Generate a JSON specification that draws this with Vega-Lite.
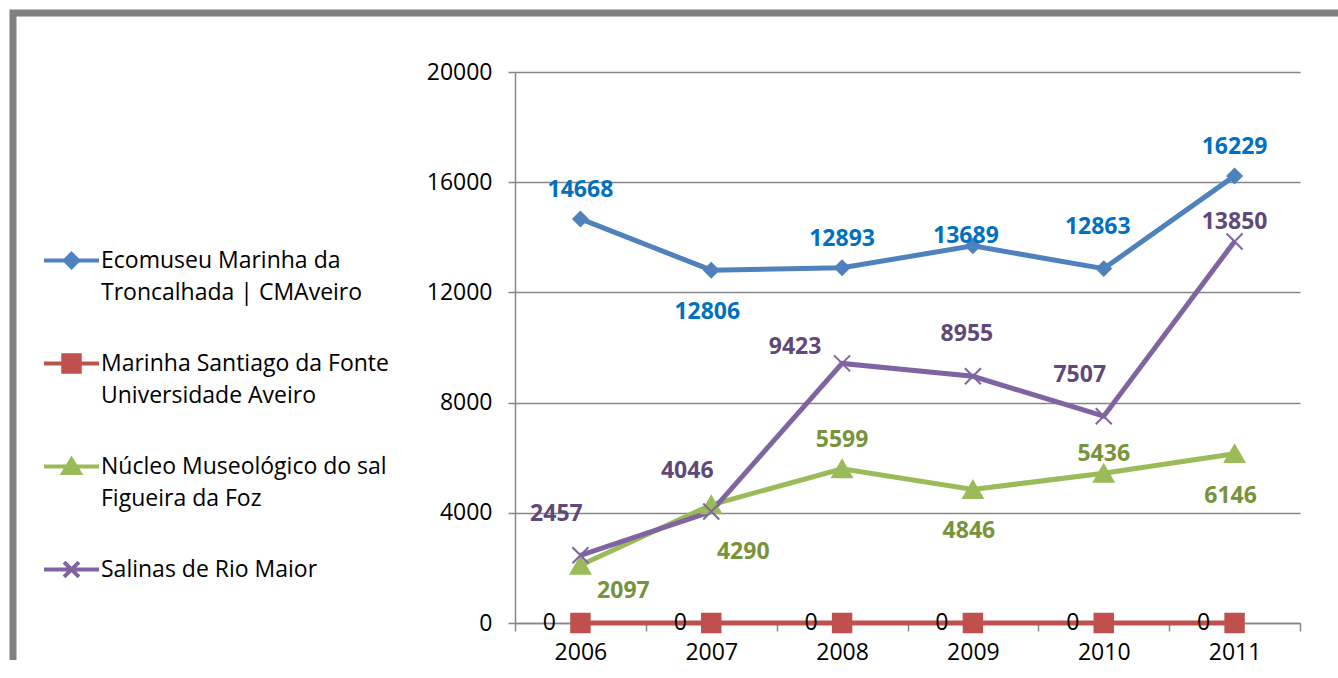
{
  "$schema": "https://vega.github.io/schema/vega-lite/v6.json",
  "width": 1385,
  "height": 657,
  "autosize": {"type": "none"},
  "padding": {"left": 13, "top": 13, "right": -60, "bottom": -10},
  "background": "white",
  "config": {
    "font": "Open Sans",
    "view": {"stroke": "#808080", "strokeWidth": 7}
  },
  "data": {
    "values": [
      {"year": "2006", "series": "Ecomuseu Marinha da Troncalhada | CMAveiro", "value": 14668, "pos": "above"},
      {"year": "2007", "series": "Ecomuseu Marinha da Troncalhada | CMAveiro", "value": 12806, "pos": "below"},
      {"year": "2008", "series": "Ecomuseu Marinha da Troncalhada | CMAveiro", "value": 12893, "pos": "above"},
      {"year": "2009", "series": "Ecomuseu Marinha da Troncalhada | CMAveiro", "value": 13689, "pos": "near"},
      {"year": "2010", "series": "Ecomuseu Marinha da Troncalhada | CMAveiro", "value": 12863, "pos": "high"},
      {"year": "2011", "series": "Ecomuseu Marinha da Troncalhada | CMAveiro", "value": 16229, "pos": "above"},
      {"year": "2006", "series": "Marinha Santiago da Fonte Universidade Aveiro", "value": 0, "pos": "zero"},
      {"year": "2007", "series": "Marinha Santiago da Fonte Universidade Aveiro", "value": 0, "pos": "zero"},
      {"year": "2008", "series": "Marinha Santiago da Fonte Universidade Aveiro", "value": 0, "pos": "zero"},
      {"year": "2009", "series": "Marinha Santiago da Fonte Universidade Aveiro", "value": 0, "pos": "zero"},
      {"year": "2010", "series": "Marinha Santiago da Fonte Universidade Aveiro", "value": 0, "pos": "zero"},
      {"year": "2011", "series": "Marinha Santiago da Fonte Universidade Aveiro", "value": 0, "pos": "zero"},
      {"year": "2006", "series": "Núcleo Museológico do sal Figueira da Foz", "value": 2097, "pos": "rightbelow"},
      {"year": "2007", "series": "Núcleo Museológico do sal Figueira da Foz", "value": 4290, "pos": "belowright"},
      {"year": "2008", "series": "Núcleo Museológico do sal Figueira da Foz", "value": 5599, "pos": "above"},
      {"year": "2009", "series": "Núcleo Museológico do sal Figueira da Foz", "value": 4846, "pos": "below"},
      {"year": "2010", "series": "Núcleo Museológico do sal Figueira da Foz", "value": 5436, "pos": "aboveclose"},
      {"year": "2011", "series": "Núcleo Museológico do sal Figueira da Foz", "value": 6146, "pos": "below"},
      {"year": "2006", "series": "Salinas de Rio Maior", "value": 2457, "pos": "aboveleft"},
      {"year": "2007", "series": "Salinas de Rio Maior", "value": 4046, "pos": "aboveleft"},
      {"year": "2008", "series": "Salinas de Rio Maior", "value": 9423, "pos": "left"},
      {"year": "2009", "series": "Salinas de Rio Maior", "value": 8955, "pos": "high"},
      {"year": "2010", "series": "Salinas de Rio Maior", "value": 7507, "pos": "aboveleft"},
      {"year": "2011", "series": "Salinas de Rio Maior", "value": 13850, "pos": "aboveclose"}
    ]
  },
  "encoding": {
    "x": {
      "field": "year", "type": "ordinal",
      "scale": {"type": "band", "range": [502, 1287], "paddingInner": 0, "paddingOuter": 0},
      "axis": {
        "title": null, "offset": -47, "tickBand": "extent", "tickSize": 8,
        "tickColor": "#868686", "tickWidth": 1.5, "domainColor": "#868686", "domainWidth": 1.5,
        "labelFontSize": 23, "labelColor": "black", "labelPadding": 10, "labelAngle": 0, "grid": false
      }
    },
    "y": {
      "field": "value", "type": "quantitative",
      "scale": {"domain": [0, 20000], "range": [610, 59], "nice": false, "zero": true},
      "axis": {
        "title": null, "offset": -502, "values": [0, 4000, 8000, 12000, 16000, 20000],
        "grid": true, "gridColor": "#868686", "gridWidth": 1.5,
        "tickColor": "#868686", "tickWidth": 1.5, "tickSize": 7,
        "domainColor": "#868686", "domainWidth": 1.5,
        "labelFontSize": 23, "labelColor": "black", "labelPadding": 16, "format": "d"
      }
    }
  },
  "layer": [
    {
      "mark": {"type": "line", "strokeWidth": 5},
      "encoding": {
        "color": {
          "field": "series", "type": "nominal",
          "scale": {
            "domain": ["Ecomuseu Marinha da Troncalhada | CMAveiro", "Marinha Santiago da Fonte Universidade Aveiro", "Núcleo Museológico do sal Figueira da Foz", "Salinas de Rio Maior"],
            "range": ["#4F81BD", "#C0504D", "#9BBB59", "#8064A2"]
          },
          "legend": {
            "orient": "none", "legendX": 29, "legendY": 218, "title": null, "padding": 0,
            "direction": "vertical", "columns": 1,
            "symbolSize": 3025, "symbolStrokeWidth": 4, "labelFontSize": 23, "labelColor": "black",
            "labelLimit": 500, "labelOffset": 0, "rowPadding": 29, "labelBaseline": "top",
            "labelExpr": "datum.value === 'Ecomuseu Marinha da Troncalhada | CMAveiro' ? ['Ecomuseu Marinha da', 'Troncalhada | CMAveiro'] : datum.value === 'Marinha Santiago da Fonte Universidade Aveiro' ? ['Marinha Santiago da Fonte', 'Universidade Aveiro'] : datum.value === 'Núcleo Museológico do sal Figueira da Foz' ? ['Núcleo Museológico do sal', 'Figueira da Foz'] : 'Salinas de Rio Maior'",
            "encode": {
              "symbols": {
                "update": {
                  "shape": {"signal": "datum.value === 'Ecomuseu Marinha da Troncalhada | CMAveiro' ? 'M-1,0H1M0,-0.24L0.24,0L0,0.24L-0.24,0Z' : datum.value === 'Marinha Santiago da Fonte Universidade Aveiro' ? 'M-1,0H1M-0.3,-0.3H0.3V0.3H-0.3Z' : datum.value === 'Núcleo Museológico do sal Figueira da Foz' ? 'M-1,0H1M0,-0.26L0.3,0.24H-0.3Z' : 'M-1,0H1M-0.27,-0.27L0.27,0.27M-0.27,0.27L0.27,-0.27'"},
                  "fill": {"signal": "scale('color', datum.value)"},
                  "stroke": {"signal": "scale('color', datum.value)"},
                  "strokeWidth": {"value": 4},
                  "size": {"value": 3025},
                  "opacity": {"value": 1}
                }
              },
              "labels": {
                "update": {
                  "lineHeight": {"value": 32},
                  "dy": {"value": -11}
                }
              }
            }
          }
        }
      }
    },
    {
      "transform": [{"filter": "datum.series === 'Ecomuseu Marinha da Troncalhada | CMAveiro'"}],
      "mark": {"type": "point", "shape": "diamond", "size": 200, "filled": true, "opacity": 1, "fill": "#4F81BD", "stroke": "#4F81BD", "strokeWidth": 2}
    },
    {
      "transform": [{"filter": "datum.series === 'Marinha Santiago da Fonte Universidade Aveiro'"}],
      "mark": {"type": "point", "shape": "square", "size": 340, "filled": true, "opacity": 1, "fill": "#C0504D", "stroke": "#C0504D", "strokeWidth": 2}
    },
    {
      "transform": [{"filter": "datum.series === 'Núcleo Museológico do sal Figueira da Foz'"}],
      "mark": {"type": "point", "shape": "triangle-up", "size": 380, "filled": true, "opacity": 1, "fill": "#9BBB59", "stroke": "#9BBB59", "strokeWidth": 2}
    },
    {
      "transform": [{"filter": "datum.series === 'Salinas de Rio Maior'"}],
      "mark": {"type": "point", "shape": "M-1,-1L1,1M-1,1L1,-1", "size": 256, "filled": false, "opacity": 1, "stroke": "#8064A2", "strokeWidth": 2}
    },
    {
      "transform": [{"filter": "datum.pos === 'above'"}],
      "mark": {"type": "text", "fontSize": 23, "fontWeight": "bold", "align": "center", "baseline": "middle", "dy": -29},
      "encoding": {
        "text": {"field": "value", "type": "quantitative", "format": "d"},
        "fill": {"condition": [
          {"test": "datum.series === 'Ecomuseu Marinha da Troncalhada | CMAveiro'", "value": "#0070C0"},
          {"test": "datum.series === 'Núcleo Museológico do sal Figueira da Foz'", "value": "#77933C"},
          {"test": "datum.series === 'Salinas de Rio Maior'", "value": "#5F497A"}
        ], "value": "black"}
      }
    },
    {
      "transform": [{"filter": "datum.pos === 'aboveclose'"}],
      "mark": {"type": "text", "fontSize": 23, "fontWeight": "bold", "align": "center", "baseline": "middle", "dy": -19},
      "encoding": {
        "text": {"field": "value", "type": "quantitative", "format": "d"},
        "fill": {"condition": [
          {"test": "datum.series === 'Ecomuseu Marinha da Troncalhada | CMAveiro'", "value": "#0070C0"},
          {"test": "datum.series === 'Núcleo Museológico do sal Figueira da Foz'", "value": "#77933C"},
          {"test": "datum.series === 'Salinas de Rio Maior'", "value": "#5F497A"}
        ], "value": "black"}
      }
    },
    {
      "transform": [{"filter": "datum.pos === 'near'"}],
      "mark": {"type": "text", "fontSize": 23, "fontWeight": "bold", "align": "center", "baseline": "middle", "dy": -10, "dx": -7},
      "encoding": {
        "text": {"field": "value", "type": "quantitative", "format": "d"},
        "fill": {"value": "#0070C0"}
      }
    },
    {
      "transform": [{"filter": "datum.pos === 'high'"}],
      "mark": {"type": "text", "fontSize": 23, "fontWeight": "bold", "align": "center", "baseline": "middle", "dy": -42, "dx": -6},
      "encoding": {
        "text": {"field": "value", "type": "quantitative", "format": "d"},
        "fill": {"condition": [
          {"test": "datum.series === 'Ecomuseu Marinha da Troncalhada | CMAveiro'", "value": "#0070C0"},
          {"test": "datum.series === 'Núcleo Museológico do sal Figueira da Foz'", "value": "#77933C"},
          {"test": "datum.series === 'Salinas de Rio Maior'", "value": "#5F497A"}
        ], "value": "black"}
      }
    },
    {
      "transform": [{"filter": "datum.pos === 'below'"}],
      "mark": {"type": "text", "fontSize": 23, "fontWeight": "bold", "align": "center", "baseline": "middle", "dy": 42, "dx": -4},
      "encoding": {
        "text": {"field": "value", "type": "quantitative", "format": "d"},
        "fill": {"condition": [
          {"test": "datum.series === 'Ecomuseu Marinha da Troncalhada | CMAveiro'", "value": "#0070C0"},
          {"test": "datum.series === 'Núcleo Museológico do sal Figueira da Foz'", "value": "#77933C"},
          {"test": "datum.series === 'Salinas de Rio Maior'", "value": "#5F497A"}
        ], "value": "black"}
      }
    },
    {
      "transform": [{"filter": "datum.pos === 'aboveleft'"}],
      "mark": {"type": "text", "fontSize": 23, "fontWeight": "bold", "align": "center", "baseline": "middle", "dy": -41, "dx": -24},
      "encoding": {
        "text": {"field": "value", "type": "quantitative", "format": "d"},
        "fill": {"value": "#5F497A"}
      }
    },
    {
      "transform": [{"filter": "datum.pos === 'belowright'"}],
      "mark": {"type": "text", "fontSize": 23, "fontWeight": "bold", "align": "center", "baseline": "middle", "dy": 47, "dx": 32},
      "encoding": {
        "text": {"field": "value", "type": "quantitative", "format": "d"},
        "fill": {"value": "#77933C"}
      }
    },
    {
      "transform": [{"filter": "datum.pos === 'rightbelow'"}],
      "mark": {"type": "text", "fontSize": 23, "fontWeight": "bold", "align": "center", "baseline": "middle", "dy": 26, "dx": 43},
      "encoding": {
        "text": {"field": "value", "type": "quantitative", "format": "d"},
        "fill": {"value": "#77933C"}
      }
    },
    {
      "transform": [{"filter": "datum.pos === 'left'"}],
      "mark": {"type": "text", "fontSize": 23, "fontWeight": "bold", "align": "center", "baseline": "middle", "dy": -16, "dx": -47},
      "encoding": {
        "text": {"field": "value", "type": "quantitative", "format": "d"},
        "fill": {"value": "#5F497A"}
      }
    },
    {
      "transform": [{"filter": "datum.pos === 'zero'"}],
      "mark": {"type": "text", "fontSize": 23, "align": "center", "baseline": "middle", "dx": -31, "fill": "black"},
      "encoding": {
        "text": {"field": "value", "type": "quantitative", "format": "d"}
      }
    }
  ]
}
